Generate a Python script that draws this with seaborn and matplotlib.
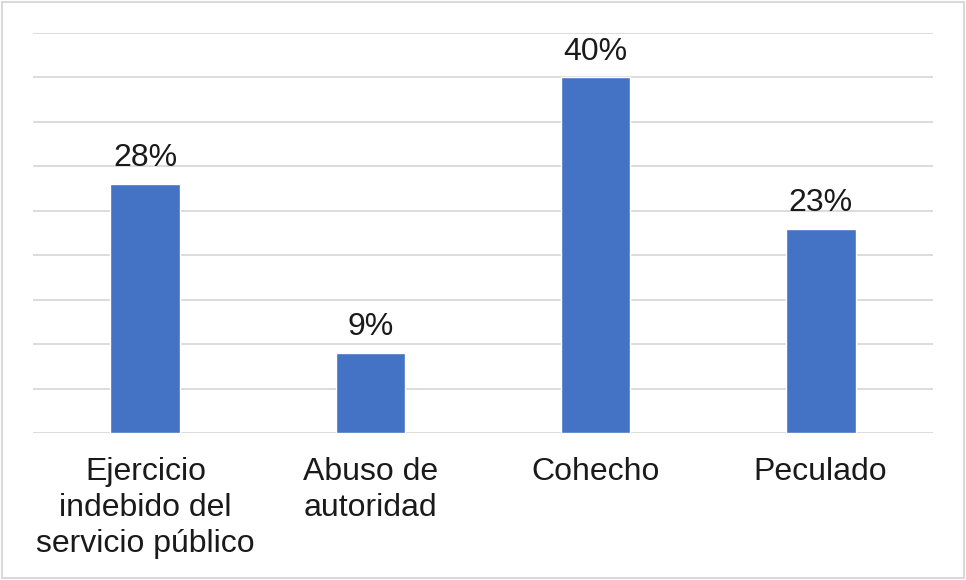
import seaborn as sns
import matplotlib.pyplot as plt
import pandas as pd
import numpy as np
from matplotlib.patches import Rectangle

categories = ["Ejercicio\nindebido del\nservicio público", "Abuso de\nautoridad", "Cohecho", "Peculado"]
values = [28, 9, 40, 23]
labels = ["28%", "9%", "40%", "23%"]

df = pd.DataFrame({"delito": categories, "pct": values})

sns.set_theme(style="white")
plt.rcParams['font.family'] = ['Liberation Sans', 'DejaVu Sans']

fig = plt.figure(figsize=(9.66, 5.80), dpi=100)
ax = fig.add_axes([0.034, 0.2534, 0.932, 0.6897])

sns.barplot(data=df, x="delito", y="pct", color="#4472C4", width=0.31,
            saturation=1, ax=ax, zorder=3)

for i, (v, lab) in enumerate(zip(values, labels)):
    ax.text(i, v + 1.2, lab, ha="center", va="bottom", fontsize=23, color="#1a1a1a")

ax.set_ylim(0, 45)
ax.set_yticks(np.arange(0, 46, 5))
ax.set_yticklabels([])
ax.tick_params(axis="y", length=0)
ax.yaxis.grid(True, color="#D9D9D9", linewidth=1.3, zorder=0)
ax.set_axisbelow(True)
for s in ax.spines.values():
    s.set_visible(False)
ax.set_xlabel("")
ax.set_ylabel("")
ax.tick_params(axis="x", length=0, pad=17, labelsize=23, labelcolor="#1a1a1a")
for t in ax.get_xticklabels():
    t.set_linespacing(1.27)
    t.set_va("top")

fig.patches.append(Rectangle((0.002, 0.003), 0.996, 0.994, transform=fig.transFigure,
                             fill=False, edgecolor="#D9D9D9", linewidth=1.5))

fig.savefig("out.png", dpi=100)
